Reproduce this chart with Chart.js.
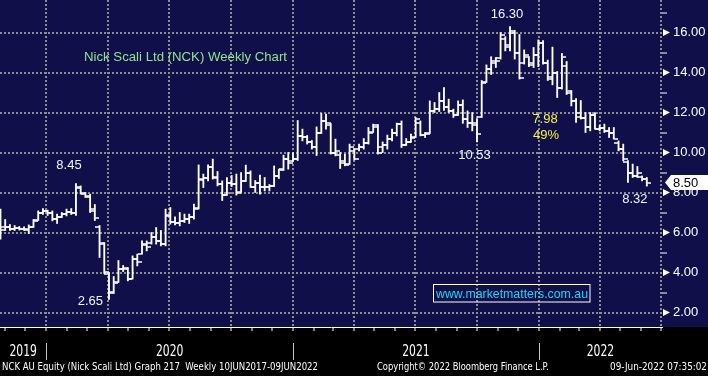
<!DOCTYPE html>
<html>
<head>
<meta charset="utf-8">
<script src="https://cdn.jsdelivr.net/npm/chart.js@4.4.1/dist/chart.umd.min.js"></script>
<style>
  html, body { margin: 0; padding: 0; background: #000; }
  #wrap { width: 708px; height: 376px; }
</style>
</head>
<body>
<div id="wrap"><canvas id="nckChart" width="708" height="376"></canvas></div>
<script>
//-----------------------------------------------------
// NCK AU weekly bar chart (Bloomberg style)
//-----------------------------------------------------

// first weekly bar (Friday), one bar per week after that
const firstWeek = '2019-10-25';

const opens = [
  6.3, 6.3, 6.3, 6.2, 6.25, 6.2, 6.15, 6.3, 6.65, 7.0,
  7.1, 7.0, 6.7, 6.8, 6.95, 7.05, 7.0, 8.25, 7.95, 7.8,
  7.2, 6.3, 5.45, 3.95, 3.05, 3.55, 4.2, 4.2, 3.7, 4.7,
  4.95, 5.4, 5.5, 5.8, 5.6, 5.45, 6.9, 6.55, 6.5, 6.6,
  6.7, 6.8, 7.25, 8.7, 8.75, 9.3, 8.8, 8.42, 7.9, 8.5,
  8.45, 8.05, 8.6, 9.0, 8.3, 8.5, 8.3, 8.3, 8.35, 8.85,
  9.17, 9.7, 9.6, 9.67, 10.85, 10.8, 10.55, 10.3, 11.0, 11.6,
  11.4, 10.0, 9.9, 9.5, 9.42, 10.1, 10.2, 10.3, 10.5, 11.05,
  11.37, 10.3, 10.4, 10.7, 11.0, 11.45, 10.4, 10.55, 10.8, 11.5,
  10.9, 11.0, 12.1, 12.2, 12.6, 12.3, 12.1, 11.9, 12.4, 11.7,
  11.5, 11.5, 11.8, 13.55, 14.2, 14.5, 14.75, 15.7, 15.3, 16.0,
  15.0, 14.5, 14.8, 14.4, 14.9, 15.5, 14.5, 13.8, 14.0, 13.25,
  14.35, 13.0, 12.6, 11.8, 11.75, 11.3, 11.9, 11.2, 11.25, 11.1,
  11.0, 10.5, 10.2, 9.55, 9.0, 8.85, 8.8, 8.7
];
const highs = [
  7.17, 6.65, 6.4, 6.35, 6.3, 6.28, 6.38, 6.65, 7.08, 7.2,
  7.12, 7.08, 6.92, 7.0, 7.17, 7.2, 8.45, 8.33, 8.0, 7.92,
  7.4, 6.35, 5.5, 4.0, 3.8, 4.6, 4.35, 4.25, 4.83, 4.92,
  5.58, 5.58, 6.0, 6.25, 6.1, 7.17, 7.25, 6.78, 7.0, 6.92,
  6.92, 7.42, 9.38, 8.92, 9.38, 9.67, 9.05, 8.58, 8.75, 8.85,
  8.92, 9.0, 9.37, 9.08, 8.6, 8.87, 8.75, 8.4, 9.33, 9.17,
  9.87, 10.0, 10.0, 11.6, 11.17, 10.85, 10.6, 11.28, 11.95, 11.92,
  11.45, 10.67, 10.0, 9.92, 10.42, 10.2, 10.42, 10.7, 11.25, 11.42,
  11.4, 10.53, 10.87, 11.17, 11.47, 11.58, 10.7, 10.92, 11.75, 11.58,
  11.0, 12.58, 12.5, 13.0, 13.25, 12.67, 12.17, 12.58, 12.63, 12.08,
  12.0, 11.7, 13.6, 14.38, 14.79, 14.75, 16.0, 15.79, 16.3, 16.1,
  15.9, 15.13, 14.8, 15.25, 15.63, 15.6, 14.62, 15.27, 14.05, 14.95,
  14.55, 13.1, 12.7, 12.6, 12.0, 12.0, 12.0, 11.35, 11.42, 11.25,
  11.25, 10.58, 10.42, 9.6, 9.42, 9.3, 8.83, 8.75
];
const lows = [
  5.67, 6.1, 6.1, 6.1, 6.12, 6.1, 5.95, 6.25, 6.6, 6.9,
  6.85, 6.58, 6.45, 6.75, 6.83, 6.9, 6.85, 7.92, 7.75, 7.0,
  6.6, 4.75, 3.95, 2.65, 2.95, 3.5, 4.05, 3.58, 3.67, 4.33,
  4.92, 5.08, 5.42, 5.42, 5.33, 5.33, 6.42, 6.38, 6.33, 6.5,
  6.45, 6.67, 7.17, 8.25, 8.58, 8.67, 8.33, 7.6, 7.85, 8.3,
  7.87, 8.0, 8.55, 8.25, 8.0, 7.92, 8.08, 8.08, 8.3, 8.7,
  9.1, 9.17, 9.55, 9.6, 10.58, 10.42, 10.17, 9.85, 10.95, 11.17,
  9.92, 9.83, 9.2, 9.33, 9.4, 9.63, 10.08, 10.17, 10.42, 11.0,
  9.92, 10.0, 10.17, 10.58, 10.83, 10.25, 10.35, 10.5, 10.75, 10.83,
  10.75, 10.95, 12.0, 12.05, 12.1, 12.0, 11.75, 11.85, 11.46, 11.25,
  11.08, 10.53, 11.75, 13.5, 13.9, 14.25, 14.67, 15.08, 15.08, 14.67,
  13.67, 14.42, 14.29, 14.25, 14.29, 14.42, 13.6, 13.38, 12.75, 13.17,
  12.9, 12.33, 11.5, 11.67, 11.0, 11.08, 11.17, 11.08, 11.0, 10.75,
  10.67, 10.08, 9.58, 8.5, 8.75, 8.75, 8.58, 8.32
];
const closes = [
  6.15, 6.3, 6.2, 6.25, 6.2, 6.2, 6.3, 6.6, 7.0, 7.1,
  7.0, 6.7, 6.8, 6.95, 7.05, 7.0, 8.3, 8.0, 7.85, 7.1,
  6.75, 5.5, 4.05, 3.0, 3.5, 4.2, 4.25, 3.7, 4.7, 4.55,
  5.45, 5.3, 5.8, 5.6, 5.45, 6.85, 6.55, 6.5, 6.6, 6.7,
  6.8, 7.2, 8.65, 8.75, 9.3, 8.75, 8.42, 7.87, 8.5, 8.45,
  8.0, 8.6, 9.0, 8.3, 8.5, 8.3, 8.3, 8.35, 8.85, 9.15,
  9.7, 9.5, 9.67, 10.85, 10.8, 10.55, 10.3, 11.0, 11.6, 11.5,
  10.0, 10.1, 9.6, 9.4, 10.3, 9.7, 10.3, 10.5, 11.0, 11.3,
  10.0, 10.4, 10.7, 11.0, 11.45, 10.4, 10.55, 10.75, 11.7, 10.9,
  10.95, 12.1, 12.2, 12.6, 12.3, 12.1, 11.9, 12.4, 11.7, 11.5,
  11.4, 10.95, 13.5, 14.2, 14.6, 14.6, 15.9, 15.4, 16.1, 15.0,
  13.75, 14.9, 14.5, 14.9, 15.5, 14.5, 13.7, 14.0, 13.25, 14.8,
  13.1, 12.6, 12.0, 11.75, 11.3, 11.9, 11.2, 11.25, 11.1, 11.0,
  10.7, 10.2, 9.7, 9.0, 8.85, 9.0, 8.7, 8.5
];

const yTickValues = [2, 3, 4, 5, 6, 7, 8, 9, 10, 11, 12, 13, 14, 15, 16, 17];
const yearLabels = ['2019', '2020', '2021', '2022'];

const chartTitle = 'Nick Scali Ltd (NCK) Weekly Chart';
const watermark = 'www.marketmatters.com.au';
const footerLeft = 'NCK AU Equity (Nick Scali Ltd) Graph 217  Weekly 10JUN2017-09JUN2022';
const footerMid = 'Copyright\u00A9 2022 Bloomberg Finance L.P.';
const footerRight = '09-Jun-2022 07:35:02';

const WHITE = '#f2f5ff';
const YELLOW = '#f5f53a';
const NAVY = '#100f4a';
const GRID = '#8e8e8e';

// price call-outs, hung off a bar's high or low
const annotations = [
  { text: '8.45', bar: 16, at: 'high', dx: -7, dy: -18, align: 'center', color: WHITE },
  { text: '2.65', bar: 23, at: 'low', dx: -6, dy: 2, align: 'right', color: WHITE },
  { text: '16.30', bar: 108, at: 'high', dx: -3, dy: -12.5, align: 'center', color: WHITE },
  { text: '10.53', bar: 101, at: 'low', dx: -2.5, dy: 14, align: 'center', color: WHITE },
  { text: '8.32', bar: 137, at: 'low', dx: -12, dy: 13, align: 'center', color: WHITE },
  { text: '7.98', bar: 115, value: 11.63, dx: 2, dy: 0, align: 'center', color: YELLOW },
  { text: '49%', bar: 115, value: 10.83, dx: 3, dy: 0, align: 'center', color: YELLOW }
];

const DAY = 864e5;
const epoch = Date.UTC(2020, 0, 1);
const dayNum = iso => (Date.parse(iso + 'T00:00:00Z') - epoch) / DAY;
const startDay = dayNum(firstWeek);
const weekDays = closes.map((_, i) => startDay + 7 * i);

function tickMark(side) {
  const c = document.createElement('canvas');
  c.width = 9;
  c.height = 2;
  const g = c.getContext('2d');
  g.fillStyle = '#ffffff';
  g.fillRect(side === 'left' ? 0 : 5, 0.25, 4, 1.5);
  return c;
}

function fitText(ctx, text, x, y, width, align) {
  const w = ctx.measureText(text).width;
  ctx.save();
  ctx.translate(x, y);
  ctx.scale(width / w, 1);
  ctx.textAlign = 'left';
  ctx.fillText(text, align === 'center' ? -w / 2 : 0, 0);
  ctx.restore();
}

const bloombergFrame = {
  id: 'bloombergFrame',
  beforeDraw(chart) {
    const { ctx, chartArea, width, height } = chart;
    ctx.save();
    ctx.fillStyle = '#000000';
    ctx.fillRect(0, 0, width, height);
    ctx.fillStyle = NAVY;
    ctx.fillRect(0, 0, width, chartArea.bottom);
    ctx.restore();
  },
  afterDraw(chart) {
    const { ctx, chartArea, scales: { x, y } } = chart;
    ctx.save();

    // major tick arrows on the price axis
    ctx.fillStyle = '#ffffff';
    yTickValues.filter(v => v % 2 === 0).forEach(v => {
      const py = y.getPixelForValue(v);
      ctx.beginPath();
      ctx.moveTo(chartArea.right + 1, py - 3.5);
      ctx.lineTo(chartArea.right + 8, py);
      ctx.lineTo(chartArea.right + 1, py + 3.5);
      ctx.closePath();
      ctx.fill();
    });

    // title and call-outs
    ctx.font = "13px 'Liberation Sans', Arial, sans-serif";
    ctx.textBaseline = 'middle';
    ctx.fillStyle = '#8fe68f';
    ctx.textAlign = 'left';
    fitText(ctx, chartTitle, 84, 57, 203);

    annotations.forEach(a => {
      const px = x.getPixelForValue(weekDays[a.bar]);
      const val = a.value !== undefined ? a.value : (a.at === 'high' ? highs[a.bar] : lows[a.bar]);
      const py = y.getPixelForValue(val);
      ctx.fillStyle = a.color;
      ctx.textAlign = a.align;
      ctx.fillText(a.text, px + a.dx, py + a.dy);
    });

    // watermark box
    ctx.strokeStyle = '#ffffff';
    ctx.lineWidth = 1;
    ctx.strokeRect(433.5, 284.5, 156.5, 17.5);
    ctx.fillStyle = '#1ed6f2';
    ctx.textAlign = 'left';
    fitText(ctx, watermark, 436, 294, 152);

    // last price tag
    const last = closes[closes.length - 1];
    const ty = y.getPixelForValue(last);
    const tx = chartArea.right + 3;
    ctx.fillStyle = '#ffffff';
    ctx.beginPath();
    ctx.moveTo(tx, ty);
    ctx.lineTo(tx + 6, ty - 7.5);
    ctx.lineTo(chart.width, ty - 7.5);
    ctx.lineTo(chart.width, ty + 7.5);
    ctx.lineTo(tx + 6, ty + 7.5);
    ctx.closePath();
    ctx.fill();
    ctx.fillStyle = '#000000';
    ctx.textAlign = 'left';
    ctx.fillText(last.toFixed(2), tx + 8, ty + 0.5);

    // year labels under the time axis
    ctx.fillStyle = '#ffffff';
    ctx.font = "15px 'DejaVu Sans', sans-serif";
    yearLabels.forEach(label => {
      const yr = Number(label);
      const a = Math.max(chartArea.left, x.getPixelForValue(dayNum(yr + '-01-01')));
      const b = Math.min(chartArea.right, x.getPixelForValue(dayNum((yr + 1) + '-01-01')));
      fitText(ctx, label, (a + b) / 2, 352.5, 27.5, 'center');
      const sep = x.getPixelForValue(dayNum(yr + '-01-01'));
      if (sep > chartArea.left && sep < chartArea.right) {
        ctx.strokeStyle = '#c4c4c4';
        ctx.beginPath();
        ctx.moveTo(Math.round(sep) + 0.5, 343);
        ctx.lineTo(Math.round(sep) + 0.5, 360);
        ctx.stroke();
      }
    });

    // footer line
    ctx.font = "10px 'DejaVu Sans', sans-serif";
    fitText(ctx, footerLeft, 2, 367.5, 316);
    fitText(ctx, footerMid, 377, 367.5, 172);
    fitText(ctx, footerRight, 610, 367.5, 97);
    ctx.restore();
  }
};

const ctx = document.getElementById('nckChart');
new Chart(ctx.getContext('2d'), {
  type: 'bar',
  data: {
    datasets: [
      {
        type: 'bar',
        data: weekDays.map((d, i) => ({ x: d, y: [lows[i], highs[i]] })),
        backgroundColor: '#ffffff',
        borderWidth: 0,
        barThickness: 1.2,
        order: 2
      },
      {
        type: 'line',
        data: weekDays.map((d, i) => ({ x: d, y: opens[i] })),
        showLine: false,
        borderWidth: 0,
        pointStyle: tickMark('left'),
        pointRadius: 1,
        pointBorderWidth: 0,
        order: 1
      },
      {
        type: 'line',
        data: weekDays.map((d, i) => ({ x: d, y: closes[i] })),
        showLine: false,
        borderWidth: 0,
        pointStyle: tickMark('right'),
        pointRadius: 1,
        pointBorderWidth: 0,
        order: 1
      }
    ]
  },
  options: {
    responsive: false,
    animation: false,
    events: [],
    layout: { padding: 0, autoPadding: false },
    plugins: { legend: { display: false }, tooltip: { enabled: false } },
    scales: {
      x: {
        type: 'linear',
        min: -68.7,
        max: 913.5,
        offset: false,
        afterBuildTicks: s => {
          const t = [];
          for (let yr = 2019; yr <= 2022; yr++) {
            for (let m = 0; m < 12; m++) {
              const v = (Date.UTC(yr, m, 1) - epoch) / DAY;
              if (v >= s.min && v <= s.max) t.push({ value: v });
            }
          }
          s.ticks = t;
        },
        afterFit: s => { s.height = 49; s.paddingLeft = 0; s.paddingRight = 0; },
        ticks: { display: false, autoSkip: false },
        grid: {
          offset: false,
          lineWidth: 2,
          color: c => {
            if (!c.tick) return 'transparent';
            const m = new Date(epoch + c.tick.value * DAY).getUTCMonth();
            return m % 3 === 0 ? GRID : 'transparent';
          },
          tickColor: '#ffffff',
          tickWidth: 1,
          tickLength: 4
        },
        border: { display: true, color: '#ffffff', width: 1, dash: [2, 2] }
      },
      y: {
        type: 'linear',
        position: 'right',
        min: 1.275,
        max: 17.625,
        afterBuildTicks: s => { s.ticks = yTickValues.map(v => ({ value: v })); },
        afterFit: s => { s.width = 46; s.paddingTop = 0; s.paddingBottom = 0; },
        ticks: {
          autoSkip: false,
          padding: 6,
          color: '#ffffff',
          font: { family: "'Liberation Sans', Arial, sans-serif", size: 13 },
          callback: v => (v % 2 === 0 ? v.toFixed(2) : '')
        },
        grid: {
          lineWidth: 2,
          color: c => (c.tick && c.tick.value % 2 === 0 ? GRID : 'transparent'),
          tickColor: c => (c.tick && c.tick.value % 2 !== 0 ? '#ffffff' : 'transparent'),
          tickWidth: 1,
          tickLength: 5
        },
        border: { display: false, dash: [2, 2] }
      }
    }
  },
  plugins: [bloombergFrame]
});
</script>
</body>
</html>
